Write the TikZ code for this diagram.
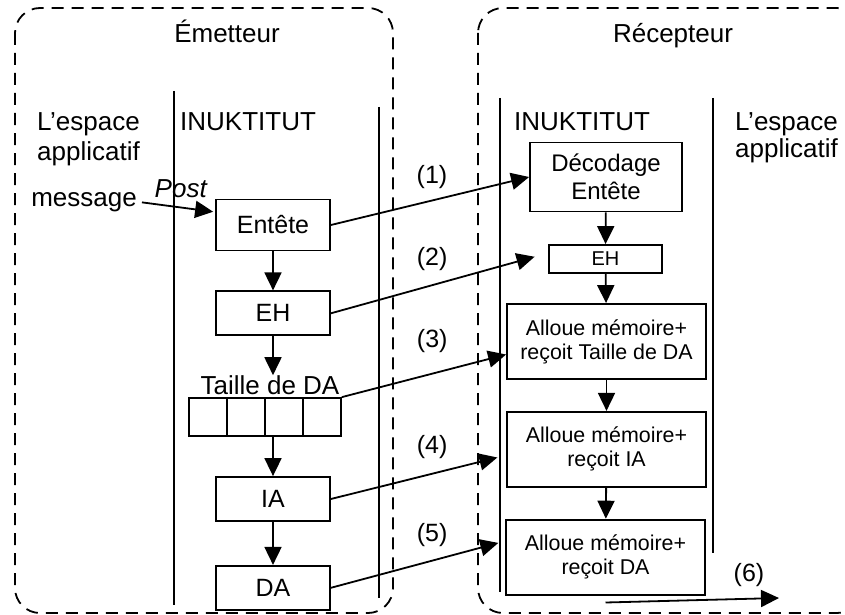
\documentclass[tikz,border=0pt]{standalone}
\usepackage{fontspec}
\setmainfont{Liberation Sans}
\usetikzlibrary{positioning, arrows.meta}
\tikzstyle{zone} = [draw=black, line width=1.8pt, dash pattern=on 12pt off 8pt, rounded corners=25pt]
\tikzstyle{lane} = [draw=black, line width=1.8pt]
\tikzstyle{txt} = [inner sep=0, font=\fontsize{26}{30}\selectfont]
\tikzstyle{flow-box} = [draw=black, line width=1.8pt, inner sep=0, align=center]
\tikzstyle{send-box} = [flow-box, minimum width=114pt, minimum height=44pt,
 font=\fontsize{25}{28}\selectfont]
\tikzstyle{recv-box} = [flow-box, minimum width=199pt, minimum height=75pt,
 font=\fontsize{21.4}{24}\selectfont]
\tikzstyle{cell} = [draw=black, line width=1.8pt, minimum size=38pt, inner sep=0]
\tikzstyle{arrow} = [line width=1.8pt, -{Triangle[length=18pt, width=17pt]}]
\tikzstyle{flow-label} = [inner sep=0, font=\fontsize{25}{28}\selectfont]

\begin{document}
\begin{tikzpicture}[x=1pt, y=-1pt]
\useasboundingbox (0,0) rectangle (845,615);

% Sender and receiver zones
\draw[zone] (15,8) rectangle (393,613);
\draw[zone] (478,8) rectangle (862,613);
\node[txt, anchor=base] (emit_title) at (227,43) {Émetteur};
\node[txt, anchor=base] (recv_title) at (673,43) {Récepteur};

% Lanes
\draw[lane] (174,91) -- (174,605);
\draw[lane] (379,107) -- (379,598);
\draw[lane] (500,98) -- (500,592);
\draw[lane] (713,98) -- (713,553);

\node[txt, align=left, anchor=north west] (emit_app) at (37,112) {L’espace\\applicatif};
\node[txt, anchor=base west] (emit_inuk) at (180,131) {INUKTITUT};
\node[txt, anchor=base west] (recv_inuk) at (514,131) {INUKTITUT};
\node[txt, align=left, anchor=north west, font=\fontsize{26}{27}\selectfont] (recv_app) at (735,112) {L’espace\\applicatif};

% Sender side
\node[txt, anchor=base east] (msg) at (137,206) {message};
\node[send-box, minimum height=51pt] (entete) at (273,225) {Entête};
\node[send-box, below=39pt of entete] (eh_send) {EH};
\node[txt, below=39pt of eh_send, xshift=-3pt] (taille_lbl) {Taille de DA};
\foreach \i in {1,...,4}
    \node[cell] (cell\i) at (170+38*\i,417) {};
\node[send-box] (ia_send) at (273,499) {IA};
\node[send-box, below=43pt of ia_send] (da_send) {DA};

\draw[arrow, shorten <=5pt, shorten >=2pt] (msg.east) -- node[txt, pos=0.56, above=9pt, font=\fontsize{26}{30}\selectfont\itshape] {Post} ([yshift=13pt]entete.west);
\draw[arrow] (entete) -- (eh_send);
\draw[arrow] (eh_send.south) -- (taille_lbl.north -| eh_send.south);
\draw[arrow] (cell1.south -| ia_send.north) -- (ia_send.north);
\draw[arrow] (ia_send) -- (da_send);

% Receiver side
\node[flow-box, minimum width=152pt, minimum height=69pt, font=\fontsize{24}{28}\selectfont] (decode) at (606,177) {Décodage\\Entête};
\node[flow-box, minimum width=113pt, minimum height=28pt, font=\fontsize{20}{24}\selectfont] (eh_recv) at (605.5,259) {EH};
\node[recv-box] (alloc_size) at (606.5,341.5) {Alloue mémoire+\\reçoit Taille de DA};
\node[recv-box, below=31pt of alloc_size] (alloc_ia) {Alloue mémoire+\\reçoit IA};
\node[recv-box, below=31pt of alloc_ia, xshift=-1pt] (alloc_da) {Alloue mémoire+\\reçoit DA};

\draw[arrow] (decode) -- (eh_recv);
\draw[arrow] (eh_recv) -- (alloc_size);
\draw[arrow] (alloc_size) -- (alloc_ia);
\draw[arrow] (alloc_ia) -- (alloc_da);

% Transfers
\draw[arrow] (entete.east) -- node[flow-label, pos=0.51, above=11pt] {(1)} (decode.west);
\draw[arrow, shorten >=14pt] (eh_send.east) -- node[flow-label, pos=0.466, above=14pt] {(2)} ([yshift=6pt]eh_recv.west);
\draw[arrow] (cell4.north east) -- node[flow-label, pos=0.55, above=20pt] {(3)} ([yshift=-13pt]alloc_size.west);
\draw[arrow, shorten >=9pt] (ia_send.east) -- node[flow-label, pos=0.578, above=14pt] {(4)} ([yshift=-6pt]alloc_ia.west);
\draw[arrow, shorten >=7pt] (da_send.east) -- node[flow-label, pos=0.581, above=13pt] {(5)} ([yshift=16pt]alloc_da.west);

\coordinate (out_start) at ([yshift=-7pt]alloc_da.south);
\coordinate (out_end) at (779,598);
\draw[arrow] (out_start) -- node[flow-label, pos=0.827, above=11pt] {(6)} (out_end);

\end{tikzpicture}
\end{document}
